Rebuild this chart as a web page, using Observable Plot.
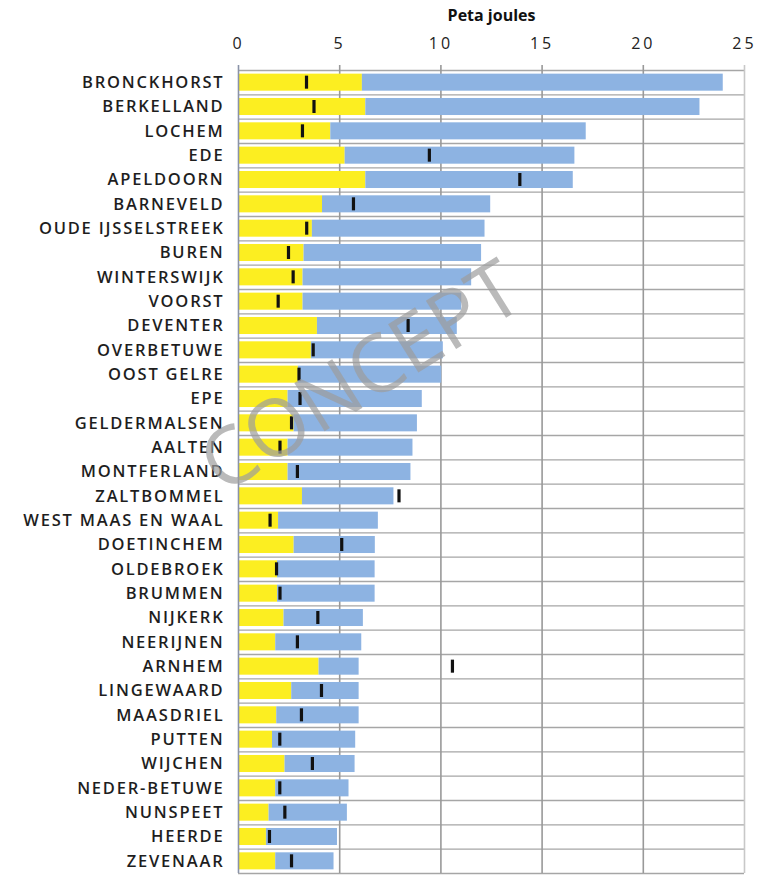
<!DOCTYPE html>
<html>
<head>
<meta charset="utf-8">
<script src="https://cdn.jsdelivr.net/npm/d3@7"></script>
<script src="https://cdn.jsdelivr.net/npm/@observablehq/plot@0.6"></script>
<style>
  html, body { margin: 0; padding: 0; background: #fff; }
  #chart svg { display: block; }
  g[aria-label="y-axis tick label"] text { letter-spacing: 1.8px; }
  g[aria-label="x-axis tick label"] text { letter-spacing: 3px; }
  g[aria-label="title"] text { letter-spacing: 1.2px; }
</style>
</head>
<body>
<div id="chart"></div>
<script>
const municipalities = ["BRONCKHORST","BERKELLAND","LOCHEM","EDE","APELDOORN","BARNEVELD","OUDE IJSSELSTREEK","BUREN","WINTERSWIJK","VOORST","DEVENTER","OVERBETUWE","OOST GELRE","EPE","GELDERMALSEN","AALTEN","MONTFERLAND","ZALTBOMMEL","WEST MAAS EN WAAL","DOETINCHEM","OLDEBROEK","BRUMMEN","NIJKERK","NEERIJNEN","ARNHEM","LINGEWAARD","MAASDRIEL","PUTTEN","WIJCHEN","NEDER-BETUWE","NUNSPEET","HEERDE","ZEVENAAR"];
const yellowValues = [6.12,6.29,4.56,5.27,6.29,4.15,3.65,3.24,3.19,3.19,3.90,3.60,2.96,2.45,2.75,2.45,2.45,3.16,1.98,2.75,1.93,1.93,2.25,1.84,3.98,2.63,1.89,1.68,2.30,1.84,1.51,1.38,1.84];
const totalValues = [23.95,22.80,17.18,16.62,16.54,12.46,12.18,12.01,11.52,11.03,10.81,10.12,10.04,9.08,8.84,8.62,8.52,7.68,6.91,6.76,6.75,6.75,6.17,6.09,5.96,5.96,5.96,5.79,5.76,5.46,5.38,4.89,4.72];
const markerValues = [3.36,3.73,3.16,9.43,13.90,5.68,3.37,2.47,2.70,1.96,8.38,3.69,2.99,3.04,2.62,2.05,2.91,7.93,1.56,5.10,1.88,2.05,3.92,2.91,10.57,4.10,3.11,2.04,3.65,2.04,2.29,1.53,2.62];
const xTicks = [0,5,10,15,20,25];

const data = municipalities.map((name, i) => ({
  name, yellow: yellowValues[i], total: totalValues[i], marker: markerValues[i]
}));

const W = 758, H = 875, mTop = 70, mBottom = 2, mLeft = 238, mRight = 14;
const step = (H - mTop - mBottom) / municipalities.length;
const font = "'Open Sans', 'DejaVu Sans', sans-serif";

const chart = Plot.plot({
  width: W, height: H,
  marginTop: mTop, marginBottom: mBottom, marginLeft: mLeft, marginRight: mRight,
  style: { fontFamily: font, background: "#fff" },
  x: { domain: [0, 25] },
  y: { domain: municipalities, paddingInner: 0.3, paddingOuter: 0.15, round: false },
  marks: [
    Plot.ruleY(municipalities, { y: d => d, dy: -step / 2, stroke: "#a6a6a6", strokeWidth: 1.3 }),
    Plot.ruleY([municipalities[municipalities.length - 1]], { y: d => d, dy: step / 2, stroke: "#a6a6a6", strokeWidth: 1.3 }),
    Plot.ruleX(xTicks.slice(1, 5), { x: d => d, stroke: "#999", strokeWidth: 1.6, insetTop: -5 }),
    Plot.ruleX([25], { x: d => d, stroke: "#c8c8c8", strokeWidth: 1.6, insetTop: -5 }),
    Plot.barX(data, { y: "name", x1: 0, x2: "yellow", fill: "#fcee21" }),
    Plot.barX(data, { y: "name", x1: "yellow", x2: "total", fill: "#8db3e2" }),
    Plot.ruleX([0], { x: d => d, stroke: "#8a93a8", strokeWidth: 1.6, insetTop: -5 }),
    Plot.tickX(data, { y: "name", x: "marker", stroke: "#111", strokeWidth: 3.2, insetTop: 2, insetBottom: 2 }),
    Plot.axisX({ anchor: "top", ticks: xTicks, tickSize: 0, tickPadding: 22, label: null, fontSize: 16, fill: "#222" }),
    Plot.axisY({ anchor: "left", tickSize: 0, tickPadding: 14, label: null, fontSize: 16.5, fontWeight: 600, fill: "#1e1e1e" }),
    Plot.text(["Peta joules"], { frameAnchor: "top", lineAnchor: "middle", dy: -55, fontSize: 16, fontWeight: 700, fill: "#111", ariaLabel: "title" }),
    Plot.text(["CONCEPT"], { frameAnchor: "middle", dx: -130, dy: -94, rotate: -32, fontSize: 80, fill: "#9c9c9c", fillOpacity: 0.7, fontWeight: 500, ariaLabel: "watermark" })
  ]
});
document.getElementById("chart").append(chart);
</script>
</body>
</html>
